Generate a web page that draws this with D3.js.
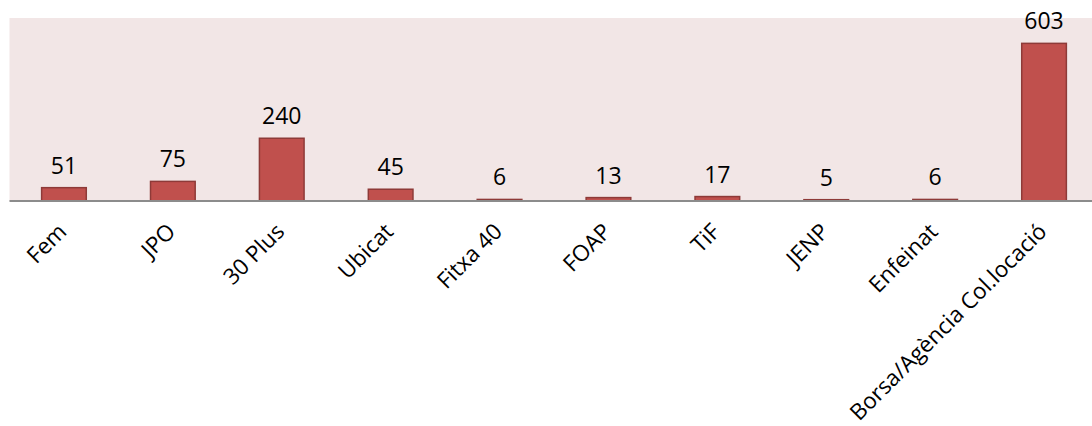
<!DOCTYPE html>
<html><head><meta charset="utf-8">
<script src="https://cdn.jsdelivr.net/npm/d3@7/dist/d3.min.js"></script>
<style>body{margin:0;background:#fff}svg{display:block}</style>
</head><body>
<svg id="chart" width="1092" height="426"></svg>
<script>
const categories = ["Fem","JPO","30 Plus","Ubicat","Fitxa 40","FOAP","TiF","JENP","Enfeinat","Borsa/Agència Col.locació"];
const values = [51,75,240,45,6,13,17,5,6,603];
const yMax = 700;

const svg = d3.select("#chart");
const plot = {left: 9.5, right: 1098.5, top: 18, bottom: 201};

const x = d3.scaleBand().domain(categories).range([plot.left, plot.right]).paddingInner(0.59).paddingOuter(0.295);
const y = d3.scaleLinear().domain([0, yMax]).range([plot.bottom, plot.top]);

svg.append("rect").attr("x", plot.left).attr("y", plot.top)
  .attr("width", plot.right - plot.left).attr("height", plot.bottom - plot.top)
  .attr("fill", "#f2e6e6");

svg.selectAll("rect.bar").data(values).enter().append("rect").attr("class","bar")
  .attr("x", (d,i) => x(categories[i]))
  .attr("y", d => y(d))
  .attr("width", x.bandwidth())
  .attr("height", d => y(0) - y(d))
  .attr("fill", "#c0504d").attr("stroke", "#8e3a38").attr("stroke-width", 1.5);

svg.append("line").attr("x1", plot.left).attr("x2", plot.right)
  .attr("y1", y(0)).attr("y2", y(0)).attr("stroke", "#8c8c8c").attr("stroke-width", 2);

svg.selectAll("text.val").data(values).enter().append("text").attr("class","val")
  .attr("x", (d,i) => x(categories[i]) + x.bandwidth()/2)
  .attr("y", d => y(d) - 14)
  .attr("text-anchor", "middle")
  .attr("font-family", "Open Sans").attr("font-size", 23).attr("fill", "#000")
  .text(d => d);

svg.selectAll("text.cat").data(categories).enter().append("text").attr("class","cat")
  .attr("transform", d => `translate(${x(d) + x.bandwidth()/2 + 4},${y(0) + 32}) rotate(-45)`)
  .attr("text-anchor", "end")
  .attr("font-family", "Open Sans").attr("font-size", 22.4).attr("fill", "#000")
  .text(d => d);
</script>
</body></html>
